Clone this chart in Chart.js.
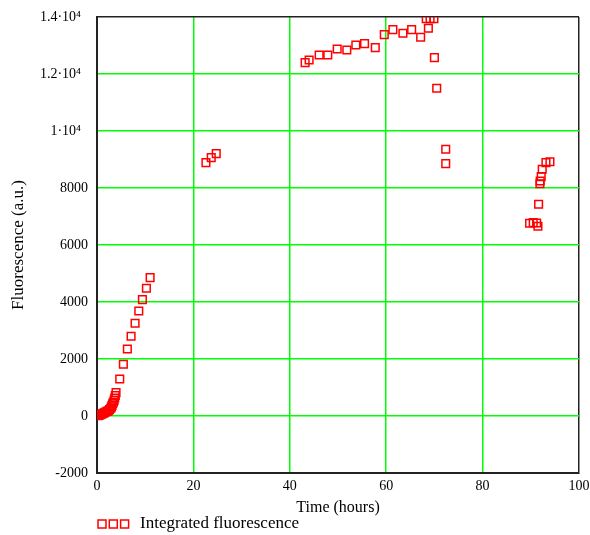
<!DOCTYPE html>
<html>
<head>
<meta charset="utf-8">
<script src="https://cdn.jsdelivr.net/npm/chart.js@4/dist/chart.umd.min.js"></script>
<style>
  html, body { margin: 0; padding: 0; background: #fff; }
  #wrap { width: 590px; height: 535px; }
</style>
</head>
<body>
<div id="wrap"><canvas id="c" width="590" height="535"></canvas></div>
<script>
// Measurement times (hours)
const timeHours = [
  0.2, 0.42, 0.6, 0.83, 1.05, 1.31, 1.55, 1.81, 2.1, 2.35, 2.6, 2.85, 3.0, 3.12, 3.25, 3.39, 3.55, 3.68, 3.8, 3.95,
  4.72, 5.47, 6.30, 7.07, 7.90, 8.67, 9.42, 10.25, 11.02,
  22.6, 23.7, 24.74,
  43.18, 44.01, 46.09, 47.88, 49.83, 51.83, 53.70, 55.51, 57.73, 59.60, 61.39, 63.47, 65.28, 67.15,
  68.3, 68.75, 69.1, 69.9, 70.0, 70.48, 72.35, 72.35,
  89.75, 90.50, 91.21, 91.48, 91.62, 91.89, 91.95, 92.16, 92.37, 93.14, 93.97
];

// Integrated fluorescence (a.u.) at each time
const fluorescence = [
  10, 25, 40, 60, 75, 95, 115, 140, 160, 186, 225, 270, 320, 375, 430, 481, 550, 632, 720, 818,
  1298, 1814, 2351, 2797, 3253, 3684, 4081, 4481, 4853,
  8888, 9064, 9204,
  12397, 12492, 12667, 12667, 12878, 12843, 13018, 13064, 12924, 13380, 13555, 13429, 13555, 13289,
  13940, 13605, 13940, 13940, 12573, 11499, 9358, 8853,
  6762, 6783, 6772, 6657, 7429, 8151, 8246, 8397, 8657, 8888, 8923
];

// Axis ticks
const xTickValues = [0, 20, 40, 60, 80, 100];
const yTickValues = [-2000, 0, 2000, 4000, 6000, 8000, 10000, 12000, 14000];
const yTickLabels = ['-2000', '0', '2000', '4000', '6000', '8000', '1\u00b710\u2074\u2002', '1.2\u00b710\u2074\u2002', '1.4\u00b710\u2074\u2002'];

const seriesName = 'Integrated fluorescence';
const xTitle = 'Time (hours)';
const yTitle = 'Fluorescence (a.u.)';

const SERIF = '"Liberation Serif", "Times New Roman", serif';
const GRID_GREEN = '#00ff00';
const MARK_RED = '#ff0000';

const points = timeHours.map((t, i) => ({ x: t, y: fluorescence[i] }));

// Key below the plot: three open squares followed by the series name
const seriesKey = {
  id: 'seriesKey',
  afterDraw(chart) {
    const ctx = chart.ctx;
    const ds = chart.data.datasets[0];
    const x0 = chart.chartArea.left;
    const yc = 524;
    ctx.save();
    ctx.strokeStyle = ds.borderColor;
    ctx.lineWidth = 1.5;
    for (let i = 0; i < 3; i++) {
      ctx.strokeRect(x0 + 1 + i * 11.3, yc - 4, 8, 8);
    }
    ctx.fillStyle = '#000';
    ctx.font = '17px ' + SERIF;
    ctx.textBaseline = 'middle';
    ctx.textAlign = 'left';
    ctx.fillText(ds.label, 140, yc);
    ctx.restore();
  }
};

new Chart(document.getElementById('c'), {
  type: 'scatter',
  data: {
    datasets: [{
      label: seriesName,
      data: points,
      showLine: false,
      pointStyle: 'rect',
      pointRadius: 5.4,
      pointHoverRadius: 5.4,
      pointBorderWidth: 1.5,
      borderColor: MARK_RED,
      backgroundColor: 'rgba(0,0,0,0)',
      clip: 0
    }]
  },
  options: {
    responsive: false,
    animation: false,
    devicePixelRatio: 1,
    layout: { padding: { top: 17, right: 11, bottom: 17, left: 0 } },
    plugins: {
      legend: { display: false },
      tooltip: { enabled: false }
    },
    scales: {
      x: {
        type: 'linear',
        min: 0,
        max: 100,
        afterFit: (s) => { s.height = 45; s.paddingLeft = 0; s.paddingRight = 0; },
        afterBuildTicks: (s) => { s.ticks = xTickValues.map(v => ({ value: v })); },
        ticks: {
          padding: 5,
          color: '#000',
          font: { family: SERIF, size: 14 },
          maxRotation: 0,
          callback: (v) => String(v)
        },
        grid: {
          drawTicks: false,
          color: (c) => (c.tick && c.tick.value === 100 ? '#222' : GRID_GREEN),
          lineWidth: 1.5
        },
        border: { display: true, color: '#222', width: 2 },
        title: {
          display: true,
          text: xTitle,
          color: '#000',
          font: { family: SERIF, size: 16 },
          padding: { top: 0, bottom: 1 }
        }
      },
      y: {
        type: 'linear',
        min: -2000,
        max: 14000,
        afterFit: (s) => { s.width = 97; s.paddingTop = 0; s.paddingBottom = 0; },
        afterBuildTicks: (s) => { s.ticks = yTickValues.map(v => ({ value: v })); },
        ticks: {
          padding: 9,
          color: '#000',
          font: { family: SERIF, size: 14 },
          callback: (v) => {
            const i = yTickValues.indexOf(v);
            return i >= 0 ? yTickLabels[i] : '';
          }
        },
        grid: {
          drawTicks: false,
          color: (c) => (c.tick && c.tick.value === 14000 ? '#222' : GRID_GREEN),
          lineWidth: 1.5
        },
        border: { display: true, color: '#222', width: 2 },
        title: {
          display: true,
          text: yTitle,
          color: '#000',
          font: { family: SERIF, size: 17 },
          padding: { top: 8, bottom: 0 }
        }
      }
    }
  },
  plugins: [seriesKey]
});
</script>
</body>
</html>
